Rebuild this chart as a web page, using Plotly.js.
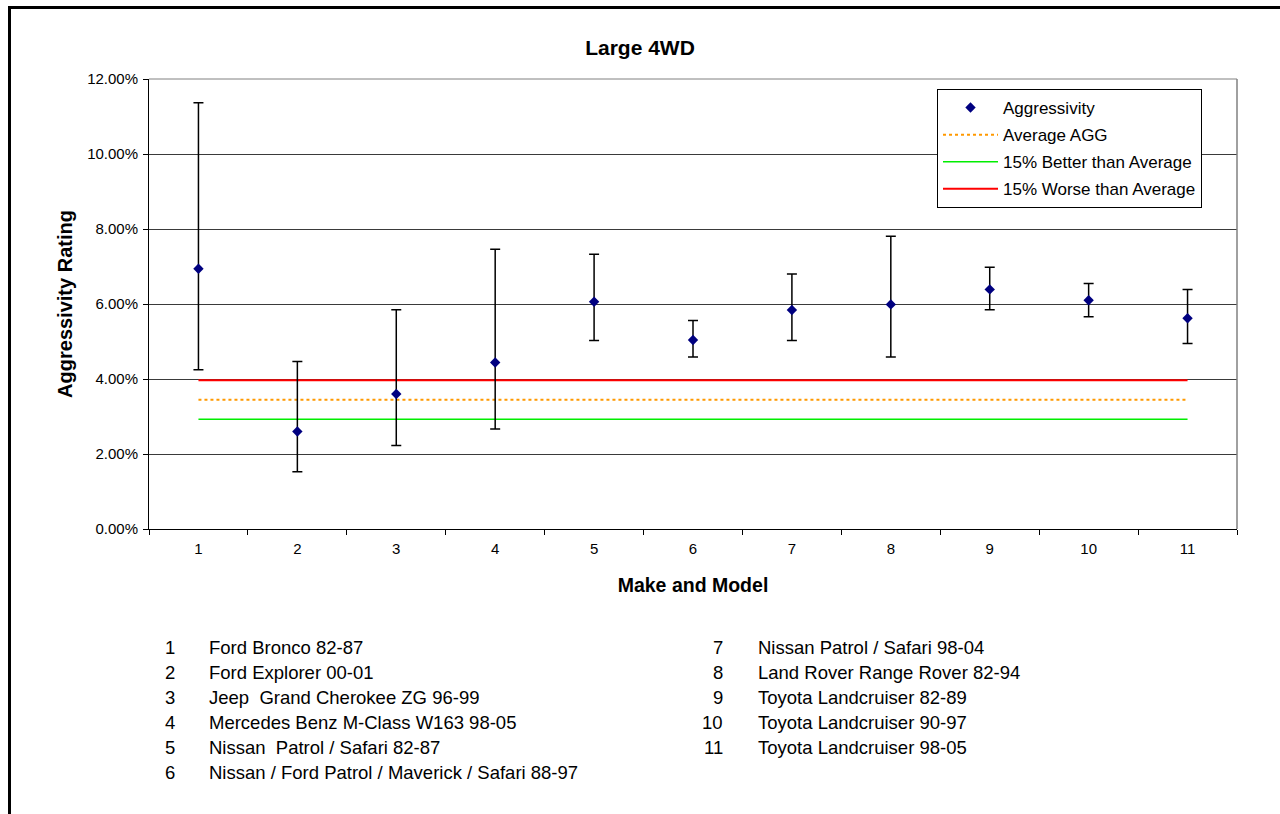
<!DOCTYPE html>
<html>
<head>
<meta charset="utf-8">
<script src="https://cdn.plot.ly/plotly-3.0.1.min.js"></script>
<style>
  html, body { margin: 0; padding: 0; background: #fff; }
  #wrap { position: relative; width: 1280px; height: 814px; overflow: hidden; }
  #chart { position: absolute; left: 0; top: 0; width: 1280px; height: 814px; }
  #frame { position: absolute; left: 8px; top: 6px; width: 1400px; height: 1000px;
           border-top: 3px solid #000; border-left: 3px solid #000; pointer-events: none; }
</style>
</head>
<body>
<div id="wrap">
  <div id="chart"></div>
  <div id="frame"></div>
</div>
<script>
// ---- data ----
const categories = ['1', '2', '3', '4', '5', '6', '7', '8', '9', '10', '11'];
const makeModel = [
  'Ford Bronco 82-87',
  'Ford Explorer 00-01',
  'Jeep  Grand Cherokee ZG 96-99',
  'Mercedes Benz M-Class W163 98-05',
  'Nissan  Patrol / Safari 82-87',
  'Nissan / Ford Patrol / Maverick / Safari 88-97',
  'Nissan Patrol / Safari 98-04',
  'Land Rover Range Rover 82-94',
  'Toyota Landcruiser 82-89',
  'Toyota Landcruiser 90-97',
  'Toyota Landcruiser 98-05'
];
const aggMean  = [0.0694, 0.0260, 0.0360, 0.0444, 0.0606, 0.0504, 0.0584, 0.0599, 0.0639, 0.0610, 0.0562];
const aggUpper = [0.1137, 0.0447, 0.0585, 0.0746, 0.0733, 0.0556, 0.0680, 0.0781, 0.0698, 0.0655, 0.0639];
const aggLower = [0.0425, 0.0153, 0.0223, 0.0267, 0.0503, 0.0459, 0.0503, 0.0459, 0.0585, 0.0566, 0.0495];
const averageAgg = 0.0345;
const betterThanAvg = 0.0293;
const worseThanAvg = 0.0397;
const yTickVals = [0, 0.02, 0.04, 0.06, 0.08, 0.10, 0.12];

// ---- layout geometry (pixels) ----
const W = 1280, H = 814;
const M = { l: 149, r: 43, t: 79, b: 285 };
const plotW = W - M.l - M.r, plotH = H - M.t - M.b;
const px2x = (px) => (px - M.l) / plotW;
const py2y = (py) => (H - M.b - py) / plotH;
const FONT = 'Liberation Sans, Arial, sans-serif';

const errPlus = aggMean.map((v, i) => aggUpper[i] - v);
const errMinus = aggMean.map((v, i) => v - aggLower[i]);
const constLine = (v) => categories.map(() => v);

const traces = [
  {
    x: categories, y: constLine(averageAgg), name: 'Average AGG', type: 'scatter', mode: 'lines',
    line: { color: '#FF9900', width: 2, dash: 'dot' }, legendrank: 2, legendgroup: 'b', hoverinfo: 'skip'
  },
  {
    x: categories, y: constLine(betterThanAvg), name: '15% Better than Average', type: 'scatter', mode: 'lines',
    line: { color: '#00EE00', width: 1.5 }, legendrank: 3, legendgroup: 'c', hoverinfo: 'skip'
  },
  {
    x: categories, y: constLine(worseThanAvg), name: '15% Worse than Average', type: 'scatter', mode: 'lines',
    line: { color: '#FF0000', width: 2 }, legendrank: 4, legendgroup: 'd', hoverinfo: 'skip'
  },
  {
    x: categories, y: aggMean, name: 'Aggressivity', type: 'scatter', mode: 'markers',
    marker: { symbol: 'diamond', size: 8, color: '#000080', line: { color: '#000080', width: 0 } },
    error_y: { type: 'data', symmetric: false, array: errPlus, arrayminus: errMinus,
               color: '#000', thickness: 1.5, width: 5 },
    legendrank: 1, legendgroup: 'a'
  }
];

const annotations = [];
const rowY0 = 647, rowStep = 25;
makeModel.forEach((name, i) => {
  const col = i < 6 ? 0 : 1;
  const row = i < 6 ? i : i - 6;
  const py = rowY0 + row * rowStep;
  annotations.push({
    xref: 'paper', yref: 'paper', x: px2x(col === 0 ? 177 : 725), y: py2y(py),
    xanchor: 'right', yanchor: 'middle', showarrow: false, text: categories[i],
    font: { family: FONT, size: 18.5, color: '#000' }
  });
  annotations.push({
    xref: 'paper', yref: 'paper', x: px2x(col === 0 ? 207 : 756), y: py2y(py),
    xanchor: 'left', yanchor: 'middle', showarrow: false, text: name,
    font: { family: FONT, size: 18.5, color: '#000' }
  });
});

const layout = {
  width: W, height: H,
  margin: M,
  paper_bgcolor: '#fff', plot_bgcolor: '#fff',
  font: { family: FONT, color: '#000', size: 15 },
  title: {
    text: '<b>Large 4WD</b>', x: 0.5, xref: 'container', xanchor: 'center',
    y: 1 - 48 / H, yref: 'container', yanchor: 'middle',
    font: { size: 21, color: '#000', family: FONT }
  },
  xaxis: {
    type: 'category', categoryorder: 'array', categoryarray: categories,
    range: [-0.5, categories.length - 0.5], autorange: false,
    tickson: 'boundaries', ticks: 'outside', ticklen: 5, tickcolor: '#000', tickwidth: 1,
    showline: true, linecolor: '#000', linewidth: 1,
    showgrid: false, zeroline: false,
    tickfont: { size: 15, color: '#000' }, ticklabelstandoff: 6,
    title: { text: '<b>Make and Model</b>', font: { size: 19.5, color: '#000' }, standoff: 22 }
  },
  yaxis: {
    range: [0, 0.12], autorange: false, tickvals: yTickVals, tickformat: '.2%',
    ticks: 'outside', ticklen: 5, tickcolor: '#000', tickwidth: 1,
    showline: true, linecolor: '#000', linewidth: 1,
    showgrid: true, gridcolor: '#3a3a3a', gridwidth: 1, zeroline: false,
    tickfont: { size: 15, color: '#000' }, ticklabelstandoff: 2,
    title: { text: '<b>Aggressivity Rating</b>', font: { size: 20, color: '#000' }, standoff: 9 }
  },
  shapes: [
    { type: 'line', xref: 'paper', yref: 'paper', x0: 1, x1: 1, y0: 0, y1: 1,
      line: { color: '#808080', width: 1.5 } },
    { type: 'line', xref: 'paper', yref: 'paper', x0: 0, x1: 1, y0: 1, y1: 1,
      line: { color: '#808080', width: 1 } }
  ],
  legend: {
    x: px2x(937), y: py2y(89), xanchor: 'left', yanchor: 'top',
    bordercolor: '#000', borderwidth: 1, bgcolor: '#fff',
    font: { size: 17, color: '#000', family: FONT },
    tracegroupgap: 2, itemwidth: 55, traceorder: 'grouped'
  },
  annotations: annotations,
  showlegend: true
};

Plotly.newPlot('chart', traces, layout, { displayModeBar: false, staticPlot: true });
</script>
</body>
</html>
